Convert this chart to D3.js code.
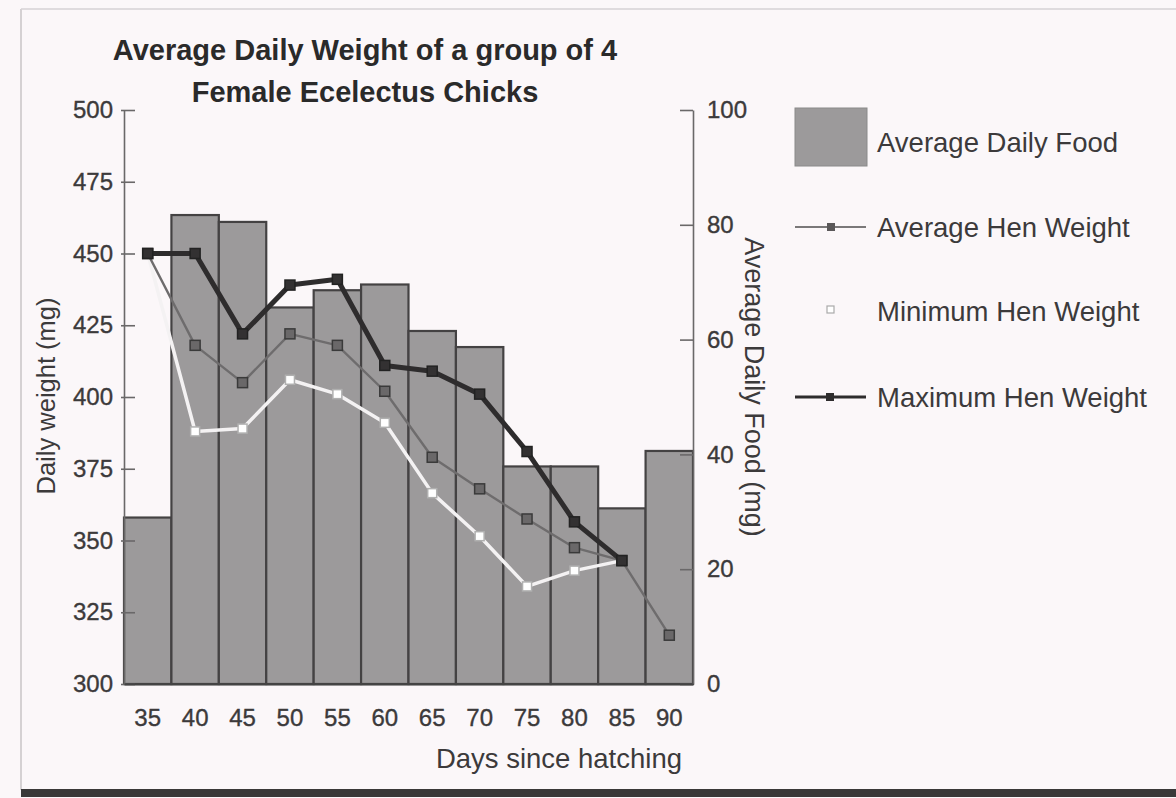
<!DOCTYPE html>
<html><head><meta charset="utf-8">
<script src="https://cdn.jsdelivr.net/npm/d3@7"></script>
<style>
html,body{margin:0;padding:0;background:#fbf7f9;}
svg{display:block;}
text{font-family:"Liberation Sans",Arial,sans-serif;}
</style></head>
<body>
<svg id="c" width="1176" height="798"></svg>
<script>
const days = [35,40,45,50,55,60,65,70,75,80,85,90];
const avgFood = [29, 81.7, 80.5, 65.6, 68.6, 69.6, 61.5, 58.7, 37.9, 37.9, 30.6, 40.6];
const avgWeight = [450, 418, 405, 422, 418, 402, 379, 368, 357.5, 347.5, 343, 317];
const minWeight = [450, 388, 389, 406, 401, 391, 366.5, 351.5, 334, 339.5, 343, null];
const maxWeight = [450, 450, 422, 439, 441, 411, 409, 401, 381, 356.5, 343, null];
const weightTicks = [300,325,350,375,400,425,450,475,500];
const foodTicks = [0,20,40,60,80,100];
const titleLines = ["Average Daily Weight of a group of 4","Female Ecelectus Chicks"];
const legendLabels = ["Average Daily Food","Average Hen Weight","Minimum Hen Weight","Maximum Hen Weight"];

const svg = d3.select("#c");
const L = 124, R = 693, T = 110, B = 684;
const x = d3.scaleBand().domain(days).range([L, R]).padding(0);
const yW = d3.scaleLinear().domain([300,500]).range([B, T]);
const yF = d3.scaleLinear().domain([0,100]).range([B, T]);
const ink = "#3c3a3b";

// page frame
svg.append("line").attr("x1",21).attr("x2",21).attr("y1",9).attr("y2",790).attr("stroke","#c8c4c6").attr("stroke-width",1.5);
svg.append("line").attr("x1",21).attr("x2",1176).attr("y1",9).attr("y2",9).attr("stroke","#d6d2d4").attr("stroke-width",1.5);
svg.append("rect").attr("x",21).attr("y",789).attr("width",1155).attr("height",8).attr("fill","#3a3838");

// title
svg.append("text").attr("x",365).attr("y",0).attr("text-anchor","middle")
  .attr("font-weight","bold").attr("font-size",29).attr("fill","#2a2a2a")
  .selectAll("tspan").data(titleLines).join("tspan")
  .attr("x",365).attr("y",(d,i)=>60+i*42).text(d=>d);

// bars
svg.append("g").selectAll("rect").data(days).join("rect")
  .attr("x",d=>x(d)).attr("width",x.bandwidth())
  .attr("y",(d,i)=>yF(avgFood[i])).attr("height",(d,i)=>B-yF(avgFood[i]))
  .attr("fill","#9c9a9b").attr("stroke","#444243").attr("stroke-width",2.2);

// axes
const axL = svg.append("g").attr("transform",`translate(${L},0)`)
  .call(d3.axisLeft(yW).tickValues(weightTicks).tickSizeInner(-11).tickSizeOuter(0).tickPadding(11));
const axR = svg.append("g").attr("transform",`translate(${R},0)`)
  .call(d3.axisRight(yF).tickValues(foodTicks).tickSizeInner(-13).tickSizeOuter(0).tickPadding(14));
const axB = svg.append("g").attr("transform",`translate(0,${B})`)
  .call(d3.axisBottom(x).tickSize(0).tickPadding(25));
[axL,axR,axB].forEach(a=>{
  a.selectAll("path").attr("stroke","#6a6869").attr("stroke-width",1.6);
  a.selectAll("line").attr("stroke","#6a6869").attr("stroke-width",1.6);
  a.selectAll("text").attr("font-size",24).attr("fill",ink).attr("stroke",ink).attr("stroke-width",0.35)
    .attr("font-family","Liberation Sans, Arial, sans-serif");
});
axL.selectAll(".tick line").attr("x1",-3);
axR.selectAll(".tick line").attr("x1",0);
axB.select("path").attr("stroke","#444").attr("stroke-width",2);

// axis titles
svg.append("text").attr("transform","translate(55,396) rotate(-90)").attr("text-anchor","middle")
  .attr("font-size",25.5).attr("fill",ink).text("Daily weight (mg)");
svg.append("text").attr("transform","translate(745,387) rotate(90)").attr("text-anchor","middle")
  .attr("font-size",27).attr("fill",ink).text("Average Daily Food (mg)");
svg.append("text").attr("x",682).attr("y",768).attr("text-anchor","end")
  .attr("font-size",27.5).attr("fill",ink).text("Days since hatching");

const cx = d => x(d) + x.bandwidth()/2;
function series(vals, stroke, width, mfill, mstroke, msize){
  const pts = days.map((d,i)=>({d, v: vals[i]})).filter(p=>p.v!==null);
  svg.append("path").datum(pts)
    .attr("d", d3.line().x(p=>cx(p.d)).y(p=>yW(p.v)))
    .attr("fill","none").attr("stroke",stroke).attr("stroke-width",width).attr("stroke-linejoin","round");
  svg.append("g").selectAll("rect").data(pts).join("rect")
    .attr("x",p=>cx(p.d)-msize/2).attr("y",p=>yW(p.v)-msize/2)
    .attr("width",msize).attr("height",msize)
    .attr("fill",mfill).attr("stroke",mstroke).attr("stroke-width",1.5);
}
series(minWeight, "#f4f2f3", 3.5, "#ffffff", "#b0b0b0", 9);
series(avgWeight, "#6e6c6d", 2.4, "#6a6869", "#3a3a3a", 10);
series(maxWeight, "#2e2c2d", 5, "#333132", "#222", 10);

// legend
const lg = svg.append("g");
lg.append("rect").attr("x",795).attr("y",108).attr("width",72).attr("height",58).attr("fill","#9c9a9b").attr("stroke","#8a8a8a");
lg.append("line").attr("x1",795).attr("x2",866).attr("y1",227).attr("y2",227).attr("stroke","#7a7879").attr("stroke-width",2);
lg.append("rect").attr("x",827).attr("y",223).attr("width",8).attr("height",8).attr("fill","#5a5859");
lg.append("rect").attr("x",827).attr("y",306).attr("width",7).attr("height",7).attr("fill","#fff").attr("stroke","#aaa").attr("stroke-width",1.2);
lg.append("line").attr("x1",795).attr("x2",866).attr("y1",397).attr("y2",397).attr("stroke","#2e2c2d").attr("stroke-width",3);
lg.append("rect").attr("x",826).attr("y",393).attr("width",8).attr("height",8).attr("fill","#2e2c2d");
lg.selectAll("text.lab").data(legendLabels).join("text").attr("class","lab")
  .attr("x",877).attr("y",(d,i)=>[152,237,321,407][i])
  .attr("font-size",27.5).attr("fill",ink).text(d=>d);
</script>
</body></html>
